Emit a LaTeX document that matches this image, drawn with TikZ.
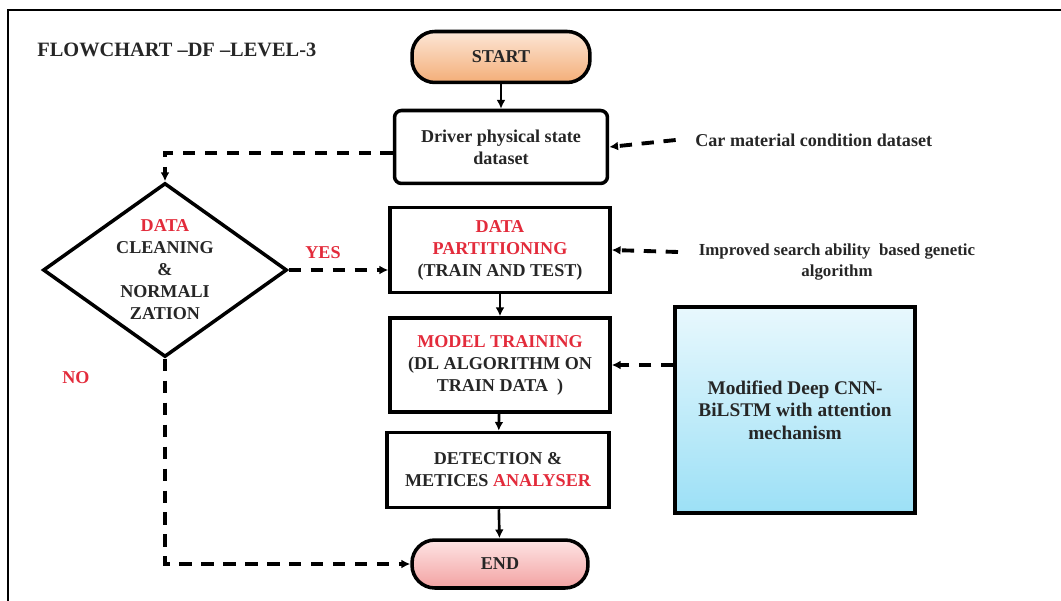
\documentclass[tikz,border=0pt]{standalone}
\usepackage{fontspec}
\setmainfont{Liberation Serif}
\usetikzlibrary{shapes.geometric,arrows.meta}

\definecolor{hlred}{HTML}{E32B3B}
\definecolor{startA}{HTML}{FCE6D6}
\definecolor{startB}{HTML}{F4AE78}
\definecolor{endA}{HTML}{FDE4E4}
\definecolor{endB}{HTML}{F3A2A2}
\definecolor{cnnA}{HTML}{E8F8FD}
\definecolor{cnnB}{HTML}{9CE0F6}

\tikzset{
    txt/.style={font=\fontsize{10.3}{12.5}\selectfont\bfseries, align=center, inner sep=0pt, text=black!85},
    box/.style={txt, draw=black, line width=2pt, fill=white},
    term/.style={box, rounded corners=13pt},
    flow/.style={line width=1.5pt, -{Latex[length=5pt,width=5pt]}},
    dflow/.style={line width=2.2pt, dash pattern=on 7pt off 5.5pt, -{Latex[length=5pt,width=5pt]}},
}

\begin{document}
\begin{tikzpicture}[x=0.02cm, y=-0.02cm]
    \useasboundingbox (0,0) rectangle (1061,601);

    % Marco
    \draw[black, line width=1.2pt] (8,601) -- (8,10) -- (1061,10);

    % Titulo
    \node[txt, font=\fontsize{11.6}{14}\selectfont\bfseries, anchor=west] (title) at (37,50) {FLOWCHART --DF --LEVEL-3};

    % Terminales
    \node[term, top color=startA, bottom color=startB, minimum width=3.56cm, minimum height=1.02cm] (start) at (501,57) {START};
    \node[term, top color=endA, bottom color=endB, minimum width=3.52cm, minimum height=0.96cm] (end) at (500,564) {END};

    % Cajas
    \node[box, rounded corners=4pt, minimum width=4.26cm, minimum height=1.46cm] (drv) at (501,147) {Driver physical state\\dataset};
    \node[box, minimum width=4.4cm, minimum height=1.7cm] (part) at (500,250) {\textcolor{hlred}{DATA}\\\textcolor{hlred}{PARTITIONING}\\(TRAIN AND TEST)};
    \node[box, minimum width=4.4cm, minimum height=1.88cm] (model) at (500,365) {\textcolor{hlred}{MODEL TRAINING}\\(DL ALGORITHM\ ON\\TRAIN DATA\ \ )};
    \node[box, minimum width=4.44cm, minimum height=1.5cm] (det) at (498,470) {DETECTION \&\\METICES \textcolor{hlred}{ANALYSER}};
    \node[box, font=\fontsize{11}{12.8}\selectfont\bfseries, top color=cnnA, bottom color=cnnB, minimum width=4.8cm, minimum height=4.12cm] (cnn) at (795,410) {Modified Deep CNN-\\BiLSTM with attention\\mechanism};

    % Decision
    \node[txt, shape=diamond, draw=black, line width=2pt, fill=white, aspect=1.4, minimum width=4.88cm, minimum height=3.48cm] (dec) at (165,270) {\textcolor{hlred}{DATA}\\CLEANING\\\&\\NORMALI\\ZATION};

    % Textos laterales
    \node[txt, anchor=west] (car) at (695,140) {Car material condition dataset};
    \node[txt, font=\fontsize{9.6}{12}\selectfont\bfseries] (gen) at (837,262) {Improved search ability\ \ based genetic\\algorithm};
    \node[txt, text=hlred] (yes) at (323,253) {YES};
    \node[txt, text=hlred] (no) at (76,378) {NO};

    % Flechas
    \draw[flow] (start) -- (drv);
    \draw[flow] (part) -- (model);
    \draw[flow] (model) -- (det);
    \draw[flow] (det) -- (end);

    % Flechas discontinuas
    \draw[dflow] ([xshift=-11pt]car.west) -- (drv.east);
    \draw[dflow] (678,252) -- (part.east);
    \draw[dflow] (cnn.west |- model.east) -- (model.east);
    \draw[dflow] ([yshift=-3.5pt]drv.west) -- ([yshift=-3.5pt]dec.north |- drv.west) -- (dec.north);
    \draw[dflow] (dec.east) -- (dec.east -| part.west);
    \draw[dflow] (dec.south) -- (dec.south |- end.west) -- (end.west);
\end{tikzpicture}
\end{document}
